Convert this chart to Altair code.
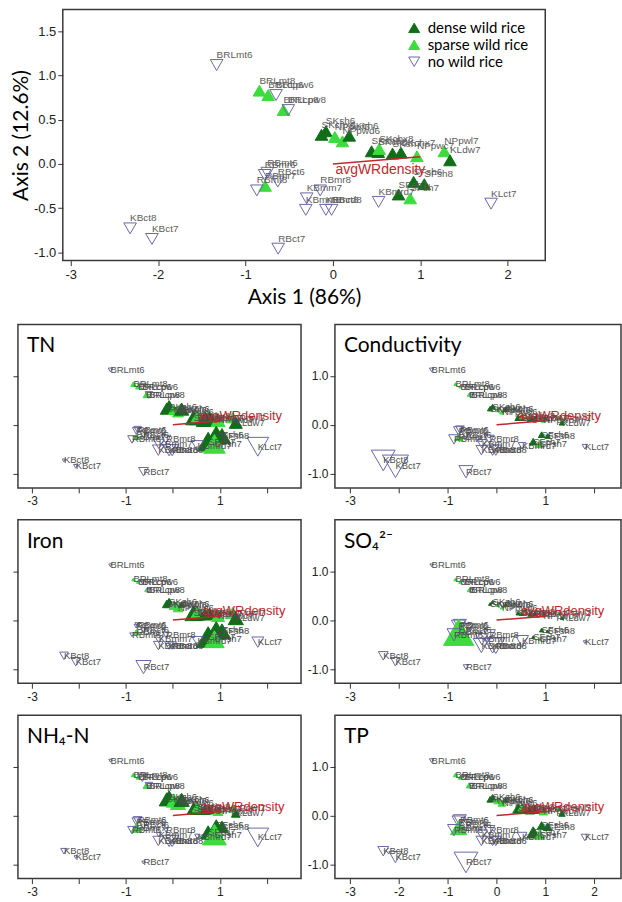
import altair as alt
import pandas as pd

# ---------------- data ----------------
sites = ["BRLmt6", "BRLmt8", "BRLcp6", "BRLpw6", "BRLcp8", "BRLpw8",
         "SKsh6", "SKchx6", "NPpwf6", "NPpwd6", "SKch6",
         "SKsh8", "SKch8", "SKchx8", "SKsh7", "SKchx7", "NPpwc7", "NPpwl7", "KLdw7",
         "SFsh6", "SFsh8", "SFch7", "SFsh7", "KBmrd7", "KLct7",
         "RBmt6", "RBct6", "RBmr6", "RBmr7", "RBmt8", "RBmr8",
         "KBmm7", "KBmm8", "KBmrd8", "RBct8", "KBct8", "KBct7", "RBct7"]
groups = ["no", "sparse", "sparse", "no", "sparse", "no",
          "dense", "dense", "sparse", "sparse", "dense",
          "dense", "dense", "sparse", "dense", "dense", "sparse", "sparse", "dense",
          "dense", "dense", "dense", "sparse", "no", "no",
          "no", "no", "no", "sparse", "no", "no",
          "no", "no", "no", "no", "no", "no", "no"]
axis1 = [-1.33, -0.84, -0.74, -0.65, -0.565, -0.51,
         -0.08, -0.13, 0.023, 0.11, 0.187,
         0.443, 0.519, 0.53, 0.683, 0.779, 0.962, 1.275, 1.34,
         0.924, 1.046, 0.752, 0.885, 0.523, 1.81,
         -0.75, -0.63, -0.78, -0.775, -0.87, -0.145,
         -0.30, -0.31, -0.08, -0.015, -2.32, -2.07, -0.626]
axis2 = [1.12, 0.83, 0.78, 0.78, 0.61, 0.61,
         0.37, 0.33, 0.305, 0.256, 0.32,
         0.143, 0.135, 0.17, 0.117, 0.128, 0.087, 0.143, 0.041,
         -0.203, -0.23, -0.346, -0.39, -0.43, -0.45,
         -0.10, -0.20, -0.125, -0.248, -0.30, -0.30,
         -0.39, -0.52, -0.52, -0.52, -0.73, -0.85, -0.96]

# relative amounts of each variable (symbol size in the small panels)
tn = [1.6, 2.0, 2.0, 2.8, 2.4, 2.8, 5.2, 4.8, 4.0, 4.0, 5.2, 6.0, 5.6, 4.8, 6.4, 6.0, 5.2, 4.4, 4.8,
      7.2, 6.4, 8.0, 8.0, 4.4, 8.0, 2.8, 2.8, 2.8, 2.4, 3.2, 3.6, 4.0, 4.4, 4.8, 4.8, 1.2, 1.6, 3.6]
cond = [1.6, 1.2, 1.2, 1.6, 1.2, 1.6, 2.0, 2.0, 1.6, 1.6, 2.0, 2.4, 2.0, 2.0, 2.0, 2.0, 1.6, 1.6, 2.0,
        2.4, 2.0, 2.8, 3.2, 2.8, 2.0, 3.2, 4.0, 3.6, 3.2, 4.0, 3.6, 3.6, 4.0, 4.4, 4.4, 8.8, 9.6, 5.2]
iron = [1.2, 1.2, 1.2, 1.6, 1.2, 1.6, 3.2, 3.2, 3.6, 3.6, 2.4, 6.4, 5.6, 4.8, 4.8, 4.8, 4.8, 4.8, 5.6,
        7.2, 6.4, 8.8, 7.2, 4.0, 4.4, 2.0, 2.0, 1.6, 2.4, 1.6, 2.4, 3.2, 3.6, 3.2, 3.2, 3.2, 3.6, 5.6]
so4 = [1.2, 1.2, 1.2, 1.6, 1.2, 1.6, 1.2, 1.2, 1.2, 1.2, 1.2, 1.6, 1.6, 1.2, 1.6, 1.6, 1.2, 1.2, 1.2,
       1.6, 1.2, 1.2, 1.2, 4.8, 1.2, 4.8, 5.6, 5.2, 11.2, 5.2, 4.4, 4.8, 6.0, 6.4, 6.8, 3.6, 3.6, 2.0]
nh4 = [1.2, 1.6, 1.6, 3.6, 2.4, 2.8, 5.6, 5.6, 5.6, 5.6, 5.6, 4.8, 4.8, 4.0, 4.0, 4.0, 3.6, 3.2, 3.2,
       4.8, 4.8, 5.6, 8.8, 2.0, 8.0, 3.2, 3.2, 3.2, 4.0, 3.2, 1.6, 2.0, 4.0, 4.8, 4.8, 2.4, 1.2, 1.2]
tp = [1.6, 1.6, 1.6, 2.0, 2.0, 2.0, 2.4, 2.4, 2.8, 2.8, 2.0, 4.0, 4.0, 3.2, 3.6, 3.6, 3.2, 2.4, 2.4,
      3.2, 3.2, 4.8, 4.0, 3.6, 2.8, 4.8, 4.8, 4.8, 6.0, 4.8, 4.0, 4.0, 4.0, 4.0, 4.0, 4.0, 4.8, 8.8]

group_names = {"dense": "dense wild rice", "sparse": "sparse wild rice", "no": "no wild rice"}

vector_name = "avgWRdensity"
vector_x = [0.0, 1.0]
vector_y = [0.0, 0.08]
# where the vector label sits in each panel (ordination units)
vlab_main = (0.03, -0.07)
vlab_small = {"TN": (0.55, 0.18), "Conductivity": (0.43, 0.17), "Iron": (0.62, 0.18),
              "SO₄²⁻": (0.5, 0.18), "NH₄-N": (0.6, 0.18), "TP": (0.5, 0.18)}

# ---------------- styling ----------------
GRP_DOM = ["dense wild rice", "sparse wild rice", "no wild rice"]
FILL = ["#0f6e17", "#3ddc3d", "transparent"]
STROKE = ["#0f6e17", "#3ddc3d", "#6868a6"]
SHAPE = ["triangle-up", "triangle-up", "triangle-down"]
RED = "#c0282d"
TICKFONT = "Liberation Sans"
BIGFONT = "Lato"

base = pd.DataFrame({"site": sites, "group": [group_names[g] for g in groups],
                     "ax1": axis1, "ax2": axis2})
vec_df = pd.DataFrame({"vx": vector_x, "vy": vector_y})

X_ALL = "datum.value < 0 ? '-' + format(-datum.value, 'd') : format(datum.value, 'd')"
X_ODD = "abs(datum.value) % 2 == 1 ? (datum.value < 0 ? '-' + format(-datum.value, 'd') : format(datum.value, 'd')) : ''"
Y_ALL = "datum.value < 0 ? '-' + format(-datum.value, '.1f') : format(datum.value, '.1f')"
Y_INT = "datum.value % 1 == 0 ? (datum.value < 0 ? '-' + format(-datum.value, '.1f') : format(datum.value, '.1f')) : ''"


def x_axis(expr, title=None, fs=12):
    kw = dict(values=[-3, -2, -1, 0, 1, 2], labelExpr=expr, grid=False, domain=False,
              tickSize=5, tickColor="#333", labelFont=TICKFONT, labelFontSize=fs,
              labelColor="#222", labelPadding=3)
    if title:
        return alt.Axis(title=title, titleFont=BIGFONT, titleFontSize=21, titleFontWeight="normal",
                        titleColor="black", titlePadding=5, **kw)
    return alt.Axis(title=None, **kw)


def y_axis(expr, labels=True, title=None, fs=12):
    kw = dict(values=[-1, -0.5, 0, 0.5, 1, 1.5], grid=False, domain=False,
              tickSize=5, tickColor="#333", labelFont=TICKFONT, labelFontSize=fs,
              labelColor="#222", labelPadding=2, labels=labels)
    if expr:
        kw["labelExpr"] = expr
    if title:
        return alt.Axis(title=title, titleFont=BIGFONT, titleFontSize=21, titleFontWeight="normal",
                        titleColor="black", titlePadding=2, **kw)
    return alt.Axis(title=None, **kw)


def group_enc(legend):
    return dict(
        shape=alt.Shape("group:N", scale=alt.Scale(domain=GRP_DOM, range=SHAPE), legend=legend),
        fill=alt.Fill("group:N", scale=alt.Scale(domain=GRP_DOM, range=FILL), legend=legend),
        stroke=alt.Stroke("group:N", scale=alt.Scale(domain=GRP_DOM, range=STROKE), legend=legend),
    )


# ---------------- main ordination plot ----------------
mx = alt.Scale(domain=[-3.09, 2.43], nice=False, zero=False)
my = alt.Scale(domain=[-1.095, 1.75], nice=False, zero=False)
legend = alt.Legend(title=None, orient="none", legendX=345, legendY=11, labelFont=BIGFONT,
                    labelFontSize=15, labelColor="black", symbolSize=120, symbolStrokeWidth=1,
                    rowPadding=1, labelOffset=6)

main_pts = alt.Chart(base).mark_point(filled=True, opacity=1, strokeWidth=1, size=160).encode(
    x=alt.X("ax1:Q", scale=mx, axis=x_axis(X_ALL, "Axis 1 (86%)", 13)),
    y=alt.Y("ax2:Q", scale=my, axis=y_axis(Y_ALL, True, "Axis 2 (12.6%)", 13)),
    **group_enc(legend),
)
main_lab = alt.Chart(base).mark_text(align="left", baseline="middle", dy=-10, fontSize=10,
                                      font=TICKFONT, color="#5c5c5c").encode(
    x=alt.X("ax1:Q", scale=mx), y=alt.Y("ax2:Q", scale=my), text="site:N")
main_vec = alt.Chart(vec_df).mark_line(color=RED, strokeWidth=1.5).encode(
    x=alt.X("vx:Q", scale=mx), y=alt.Y("vy:Q", scale=my))
main_vlab = alt.Chart(pd.DataFrame({"vx": [vlab_main[0]], "vy": [vlab_main[1]], "t": [vector_name]})).mark_text(
    align="left", baseline="middle", fontSize=14, font=TICKFONT, color=RED).encode(
    x=alt.X("vx:Q", scale=mx), y=alt.Y("vy:Q", scale=my), text="t:N")
main = alt.layer(main_pts, main_lab, main_vec, main_vlab).properties(width=484, height=252)

# invisible narrow empty cell so the main plot's axis title can reach the left edge
spacer = alt.Chart(pd.DataFrame({"a": [0]})).transform_filter("false").mark_point().encode(
    x=alt.X("a:Q", axis=None), y=alt.Y("a:Q", axis=None)
).properties(width=1, height=252, view=alt.ViewBackground(stroke="transparent"))


# ---------------- small panels ----------------
PH = 164


def small(title, values, width, xdom, yexpr, ylabels, xexpr):
    df = base.copy()
    df["v"] = values
    sx = alt.Scale(domain=xdom, nice=False, zero=False)
    sy = alt.Scale(domain=[-1.29, 2.05], nice=False, zero=False)
    pts = alt.Chart(df).mark_point(filled=True, opacity=1, strokeWidth=1).encode(
        x=alt.X("ax1:Q", scale=sx, axis=x_axis(xexpr)),
        y=alt.Y("ax2:Q", scale=sy, axis=y_axis(yexpr, ylabels)),
        size=alt.Size("v:Q", scale=alt.Scale(type="pow", exponent=2, domain=[0, 10], range=[0, 740]),
                      legend=None),
        **group_enc(None),
    )
    labs = alt.Chart(df).transform_calculate(off="-(1.7 * datum.v + 4)").mark_text(
        align="left", baseline="middle", fontSize=9.5, font=TICKFONT, color="#4d4d4d").encode(
        x=alt.X("ax1:Q", scale=sx), y=alt.Y("ax2:Q", scale=sy), text="site:N",
        yOffset=alt.YOffset("off:Q", scale=None))
    vec = alt.Chart(vec_df).mark_line(color=RED, strokeWidth=1.5).encode(
        x=alt.X("vx:Q", scale=sx), y=alt.Y("vy:Q", scale=sy))
    lx, ly = vlab_small[title]
    vlab = alt.Chart(pd.DataFrame({"vx": [lx], "vy": [ly], "t": [vector_name]})).mark_text(
        align="left", baseline="middle", fontSize=13, font=TICKFONT, color=RED).encode(
        x=alt.X("vx:Q", scale=sx), y=alt.Y("vy:Q", scale=sy), text="t:N")
    name = alt.Chart(pd.DataFrame({"t": [title]})).mark_text(
        align="left", baseline="middle", font=BIGFONT, fontSize=21, color="black").encode(
        text="t:N", x=alt.value(9), y=alt.value(22))
    return alt.layer(pts, labs, vec, vlab, name).properties(width=width, height=PH)


LX = [-3.3, 2.73]
RX = [-3.31, 2.55]
p_tn = small("TN", tn, 284, LX, None, False, X_ODD)
p_cond = small("Conductivity", cond, 287, RX, Y_INT, True, X_ODD)
p_iron = small("Iron", iron, 284, LX, None, False, X_ODD)
p_so4 = small("SO₄²⁻", so4, 287, RX, Y_INT, True, X_ODD)
p_nh4 = small("NH₄-N", nh4, 284, LX, None, False, X_ODD)
p_tp = small("TP", tp, 287, RX, Y_ALL, True, X_ALL)

IND = dict(x="independent", y="independent", fill="independent", stroke="independent",
           shape="independent", size="independent")

top = alt.hconcat(spacer, main, spacing=-11).resolve_scale(**IND)
grid = alt.concat(p_tn, p_cond, p_iron, p_so4, p_nh4, p_tp, columns=2,
                  spacing={"row": 11, "column": 4}).resolve_scale(**IND)

chart = alt.vconcat(top, grid, spacing=15).resolve_scale(**IND).properties(
    padding={"left": 9, "top": 7, "right": 0, "bottom": 0},
    background="white",
).configure_view(stroke="#3a3a3a", strokeWidth=1.5)

chart.save("out.html", embed_options={"renderer": "svg", "actions": False})
